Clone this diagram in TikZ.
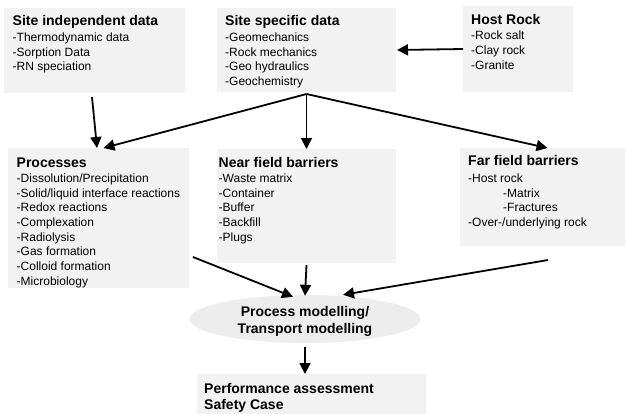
\documentclass[tikz,border=0pt]{standalone}
\usepackage{fontspec}
\setmainfont{Liberation Sans}
\usetikzlibrary{arrows.meta,shapes.geometric}
\definecolor{boxfill}{HTML}{F2F2F2}
\definecolor{ellfill}{HTML}{EDEDED}
\begin{document}
\begin{tikzpicture}[x=1pt,y=-1pt,
 box/.style={fill=boxfill, draw=none, anchor=north west, inner sep=0pt, outer sep=0pt},
 ttl/.style={anchor=base west, inner sep=0pt, font=\fontsize{14}{16}\selectfont\bfseries},
 body/.style={anchor=north west, inner sep=0pt, align=left, font=\fontsize{12}{14.7}\selectfont},
 arr/.style={line width=1.8pt, -{Triangle[length=11pt,width=11pt]}}]
\useasboundingbox (0,0) rectangle (626,413);

% boxes
\node[box, minimum width=181pt, minimum height=85pt] (sid) at (4,8) {};
\node[box, minimum width=179pt, minimum height=84pt] (ssd) at (217,8) {};
\node[box, minimum width=110pt, minimum height=86pt] (host) at (463,6) {};
\node[box, minimum width=181pt, minimum height=140pt] (proc) at (8,148) {};
\node[box, minimum width=179pt, minimum height=114pt] (near) at (217,149) {};
\node[box, minimum width=165pt, minimum height=98pt] (far) at (460,148) {};
\node[box, minimum width=229pt, minimum height=40pt] (perf) at (197,374) {};
\node[ellipse, fill=ellfill, minimum width=231pt, minimum height=48pt, inner sep=0pt] (pm) at (305,319) {};
\node[inner sep=0pt, align=center, font=\fontsize{14}{17}\selectfont\bfseries] (pmt)
      at ([shift={(0,2.5)}]pm.center) {Process modelling/\\Transport modelling};

% texts
\node[ttl] (sidt) at ([shift={(8.5,17)}]sid.north west) {Site independent data};
\node[body] (sidb) at ([shift={(8.5,24.5)}]sid.north west) {-Thermodynamic data\\-Sorption Data\\-RN speciation};

\node[ttl] (ssdt) at ([shift={(8,17)}]ssd.north west) {Site specific data};
\node[body] (ssdb) at ([shift={(8,24.5)}]ssd.north west) {-Geomechanics\\-Rock mechanics\\-Geo hydraulics\\-Geochemistry};

\node[ttl] (hostt) at ([shift={(8,18)}]host.north west) {Host Rock};
\node[body] (hostb) at ([shift={(8,25)}]host.north west) {-Rock salt\\-Clay rock\\-Granite};

\node[ttl] (proct) at ([shift={(8.5,19)}]proc.north west) {Processes};
\node[body] (procb) at ([shift={(8.5,25.5)}]proc.north west) {-Dissolution/Precipitation\\-Solid/liquid interface reactions\\-Redox reactions\\-Complexation\\-Radiolysis\\-Gas formation\\-Colloid formation\\-Microbiology};

\node[ttl] (neart) at ([shift={(1.5,18)}]near.north west) {Near field barriers};
\node[body] (nearb) at ([shift={(1.5,24.5)}]near.north west) {-Waste matrix\\-Container\\-Buffer\\-Backfill\\-Plugs};

\node[ttl] (fart) at ([shift={(8,17)}]far.north west) {Far field barriers};
\node[body] (farb) at ([shift={(8,25.5)}]far.north west) {-Host rock\\\hspace*{35pt}-Matrix\\\hspace*{35pt}-Fractures\\-Over-/underlying rock};

\node[anchor=north west, inner sep=0pt, align=left, font=\fontsize{14}{16.5}\selectfont\bfseries] (perft)
  at ([shift={(7,9)}]perf.north west) {Performance assessment\\Safety Case};

% connectors
\coordinate (fan) at ([shift={(0,2)}]ssd.south);
\draw[arr] ([shift={(-2.5,4)}]sid.south) -- ([shift={(-1.5,0)}]proc.north);
\draw[arr] (fan) -- ([shift={(5,0)}]proc.north);
\draw[arr] (fan) -- (near.north);
\draw[arr] (fan) -- ([shift={(5,0)}]far.north);
\draw[arr] (host.west) -- ([shift={(1,0)}]ssd.east);
\draw[arr] ([shift={(4,39)}]proc.east) -- ([shift={(-12,2)}]pm.north);
\draw[arr] ([shift={(0,2)}]near.south) -- ([shift={(0,1)}]pm.north);
\draw[arr] ([shift={(5.5,14)}]far.south) -- ([shift={(38,0)}]pm.north);
\draw[arr] ([yshift=-4pt]pm.south) -- (pm.south |- perf.north);
\end{tikzpicture}
\end{document}
